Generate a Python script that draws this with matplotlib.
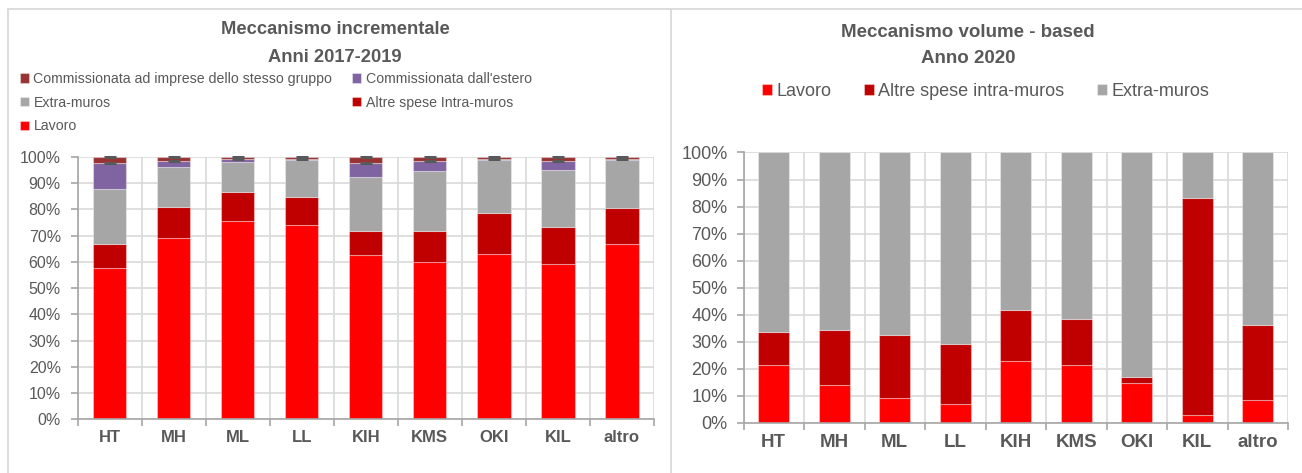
import matplotlib
matplotlib.use("Agg")
import matplotlib.pyplot as plt
from matplotlib.lines import Line2D
import numpy as np

# categorie (uguali per i due grafici)
categorie = ['HT', 'MH', 'ML', 'LL', 'KIH', 'KMS', 'OKI', 'KIL', 'altro']

# Meccanismo incrementale 2017-2019 (quote %, impilate)
inc_lavoro = [57.6, 69.0, 75.6, 73.9, 62.5, 59.9, 62.9, 59.2, 66.7]
inc_altre = [9.3, 12.0, 11.0, 10.8, 9.3, 11.7, 15.8, 14.1, 13.9]
inc_extra = [20.8, 15.2, 11.5, 14.2, 20.5, 23.1, 20.2, 21.9, 18.3]
inc_estero = [10.1, 2.3, 1.0, 0.5, 5.5, 3.8, 0.3, 3.3, 0.5]
inc_gruppo = [2.2, 1.5, 0.9, 0.6, 2.2, 1.5, 0.8, 1.5, 0.6]

# Meccanismo volume-based 2020
vol_lavoro = [21.2, 13.8, 9.3, 6.8, 22.8, 21.2, 14.7, 2.8, 8.4]
vol_altre = [12.5, 20.5, 23.3, 22.5, 18.8, 17.2, 2.2, 80.4, 27.9]
vol_extra = [66.3, 65.7, 67.4, 70.7, 58.4, 61.6, 83.1, 16.8, 63.7]

C_LAV = '#FF0000'
C_ALT = '#C00000'
C_EXT = '#A6A6A6'
C_EST = '#8064A2'
C_GRU = '#993333'
TXT = '#595959'
GRID = '#D9D9D9'
AXC = '#A6A6A6'

FAM = ['Liberation Sans', 'DejaVu Sans']

W, H = 1302, 473
fig = plt.figure(figsize=(W / 100, H / 100), dpi=100)


def fx(px):
    return px / W


def fy(py):
    return 1 - py / H


# cornici dei pannelli
for xs, ys in [([8, 8], [9, 480]), ([8, 1310], [9, 9]), ([671, 671], [9, 480])]:
    fig.add_artist(Line2D([fx(v) for v in xs], [fy(v) for v in ys],
                          color=GRID, lw=1.3, transform=fig.transFigure))


def setup_axes(ax, ysize, xsize, ypad, xpad):
    ax.set_xlim(-0.5, 8.5)
    ax.set_ylim(0, 100)
    ax.set_yticks(np.arange(0, 101, 10))
    ax.set_yticklabels([f'{v}%' for v in range(0, 101, 10)],
                       family=FAM, fontsize=ysize, color=TXT)
    ax.set_xticks(np.arange(9))
    ax.set_xticklabels(categorie, family=FAM, fontsize=xsize,
                       fontweight='bold', color=TXT)
    ax.set_xticks(np.arange(-0.5, 9, 1), minor=True)
    ax.tick_params(axis='x', which='major', length=0, pad=xpad)
    ax.tick_params(axis='x', which='minor', length=5, color=AXC, width=1.2)
    ax.tick_params(axis='y', length=5, color=AXC, width=1.2, pad=ypad)
    ax.grid(axis='y', which='major', color=GRID, lw=1.2)
    ax.grid(axis='x', which='minor', color=GRID, lw=1.2)
    ax.set_axisbelow(True)
    for s in ['top', 'right']:
        ax.spines[s].set_visible(False)
    for s in ['left', 'bottom']:
        ax.spines[s].set_color(AXC)
        ax.spines[s].set_linewidth(1.2)


x = np.arange(len(categorie))
bw = 0.52
edge = (1, 1, 1, 0.35)

# ---- grafico sinistro ----
ax1 = fig.add_axes([fx(77.5), fy(419.3), fx(654 - 77.5), (419.3 - 157) / H])
setup_axes(ax1, 11.5, 12, 7, 8)
serie1 = [('Lavoro', inc_lavoro, C_LAV), ('Altre spese Intra-muros', inc_altre, C_ALT),
          ('Extra-muros', inc_extra, C_EXT), ("Commissionata dall'estero", inc_estero, C_EST),
          ('Commissionata ad imprese dello stesso gruppo', inc_gruppo, C_GRU)]
bottom = np.zeros(len(categorie))
h1 = {}
for nome, vals, col in serie1:
    h1[nome] = ax1.bar(x, vals, bw, bottom=bottom, color=col, edgecolor=edge,
                       linewidth=0.8, label=nome)
    bottom = bottom + np.array(vals)

# trattini grigi (barre d'errore) sull'ultimo segmento
top_est = np.array(inc_lavoro) + np.array(inc_altre) + np.array(inc_extra) + np.array(inc_estero)
ax1.plot(x, top_est, linestyle='none', marker='_', ms=9, mew=2.2, color=TXT, clip_on=False)
ax1.plot(x, top_est + np.array(inc_gruppo), linestyle='none', marker='_', ms=9, mew=2.2,
         color=TXT, clip_on=False)

fig.text(fx(335), fy(34.3), 'Meccanismo incrementale', ha='center', va='baseline',
         family=FAM, fontsize=13.2, fontweight='bold', color=TXT)
fig.text(fx(335), fy(61.7), 'Anni 2017-2019', ha='center', va='baseline',
         family=FAM, fontsize=13.2, fontweight='bold', color=TXT)

ordine = ['Commissionata ad imprese dello stesso gruppo', 'Extra-muros', 'Lavoro',
          "Commissionata dall'estero", 'Altre spese Intra-muros']
leg1 = fig.legend([h1[n] for n in ordine], ordine, ncol=2, loc='upper left',
                  bbox_to_anchor=(fx(20), fy(72)), frameon=False, borderpad=0,
                  borderaxespad=0, handlelength=0.65, handleheight=0.65,
                  handletextpad=0.3, columnspacing=1.4, labelspacing=0.68,
                  prop={'family': FAM, 'size': 10.2})
for t in leg1.get_texts():
    t.set_color(TXT)

# ---- grafico destro ----
ax2 = fig.add_axes([fx(743.5), fy(422.7), fx(1288 - 743.5), (422.7 - 152.5) / H])
setup_axes(ax2, 13, 13.5, 6.5, 8)
serie2 = [('Lavoro', vol_lavoro, C_LAV), ('Altre spese intra-muros', vol_altre, C_ALT),
          ('Extra-muros', vol_extra, C_EXT)]
bottom = np.zeros(len(categorie))
h2 = []
for nome, vals, col in serie2:
    h2.append(ax2.bar(x, vals, bw, bottom=bottom, color=col, edgecolor=edge,
                      linewidth=0.8, label=nome))
    bottom = bottom + np.array(vals)

fig.text(fx(968), fy(37.3), 'Meccanismo volume - based', ha='center', va='baseline',
         family=FAM, fontsize=13.5, fontweight='bold', color=TXT)
fig.text(fx(968), fy(62.7), 'Anno 2020', ha='center', va='baseline',
         family=FAM, fontsize=13.5, fontweight='bold', color=TXT)

leg2 = fig.legend(h2, [s[0] for s in serie2], ncol=3, loc='upper left',
                  bbox_to_anchor=(fx(762), fy(83)), frameon=False, borderpad=0,
                  borderaxespad=0, handlelength=0.55, handleheight=0.55,
                  handletextpad=0.25, columnspacing=1.8,
                  prop={'family': FAM, 'size': 13})
for t in leg2.get_texts():
    t.set_color(TXT)

fig.savefig('out.png', dpi=100)
